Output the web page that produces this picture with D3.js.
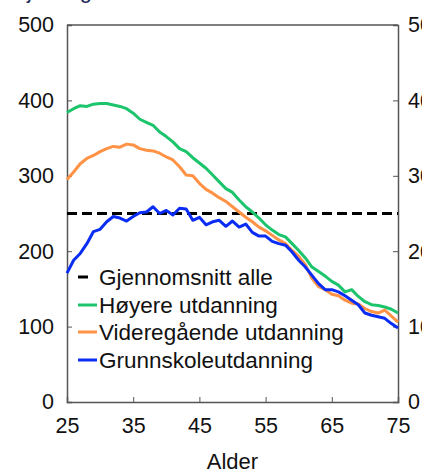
<!DOCTYPE html>
<html>
<head>
<meta charset="utf-8">
<script src="https://cdn.jsdelivr.net/npm/d3@7"></script>
<style>
  body { margin: 0; background: #fff; }
  svg { display: block; font-family: "Liberation Sans", Arial, sans-serif; }
</style>
</head>
<body>
<div id="graphic"></div>
<script>
var ages = d3.range(25, 76);

var hoyere = [384, 389, 393, 392, 395, 396, 396, 394, 392, 389, 383, 375, 371, 367, 358, 352, 345, 336, 332, 324,
  317, 310, 301, 292, 283, 278, 268, 259, 252, 244, 235, 228, 222, 219, 210, 201, 191, 179, 173, 167,
  160, 155, 146, 149, 140, 133, 129, 128, 126, 123, 118];

var videregaende = [295, 305, 316, 323, 327, 332, 336, 339, 338, 342, 341, 336, 334, 333, 330, 325, 321, 312, 301, 300,
  290, 282, 277, 271, 266, 259, 252, 245, 239, 232, 227, 221, 215, 210, 201, 193, 182, 164, 153, 149,
  143, 141, 135, 131, 130, 124, 120, 118, 122, 114, 106];

var grunnskole = [171, 188, 197, 210, 226, 229, 239, 246, 244, 240, 246, 251, 252, 259, 250, 254, 248, 257, 256, 241,
  245, 235, 239, 241, 233, 240, 232, 236, 225, 220, 220, 213, 210, 208, 199, 188, 179, 168, 157, 149,
  149, 146, 141, 135, 129, 118, 115, 113, 111, 104, 98];

var snittAlle = 250;

var seriesNames = ["Høyere utdanning", "Videregående utdanning", "Grunnskoleutdanning"];
var seriesValues = [hoyere, videregaende, grunnskole];
var seriesColors = ["#1cc46c", "#ff9245", "#0a2df5"];

var xTicks = [25, 35, 45, 55, 65, 75];
var yTicks = [0, 100, 200, 300, 400, 500];

var width = 422, height = 470;
var margin = {top: 25, right: 24, bottom: 68, left: 67};

var svg = d3.select("#graphic").append("svg")
  .attr("width", width)
  .attr("height", height);

var x = d3.scaleLinear().domain([25, 75]).range([margin.left, width - margin.right]);
var y = d3.scaleLinear().domain([0, 500]).range([height - margin.bottom, margin.top]);

// title sits above the frame, only descenders show
svg.append("text")
  .attr("x", 10)
  .attr("y", -2)
  .attr("font-size", 22)
  .attr("fill", "#1d2a5b")
  .text("Gjeld og inntekt");

var axisColor = "#555";

var leftAxis = svg.append("g")
  .attr("transform", "translate(" + margin.left + ",0)")
  .call(d3.axisLeft(y).tickValues(yTicks).tickSize(-5).tickPadding(13));

var rightAxis = svg.append("g")
  .attr("transform", "translate(" + (width - margin.right) + ",0)")
  .call(d3.axisRight(y).tickValues(yTicks).tickSize(-5).tickPadding(10));

var bottomAxis = svg.append("g")
  .attr("transform", "translate(0," + (height - margin.bottom) + ")")
  .call(d3.axisBottom(x).tickValues(xTicks).tickSize(-5).tickPadding(16));

[leftAxis, rightAxis, bottomAxis].forEach(function(g) {
  g.selectAll("path").attr("stroke", axisColor).attr("stroke-width", 1.5);
  g.selectAll("line").attr("stroke", axisColor).attr("stroke-width", 1);
  g.selectAll("text").attr("font-size", 21.5).attr("fill", "#111")
    .attr("font-family", "Liberation Sans, Arial, sans-serif");
});
bottomAxis.selectAll(".tick line").filter(function(d) { return d === 25 || d === 75; }).remove();

// top border
svg.append("line")
  .attr("x1", x(25)).attr("x2", x(75))
  .attr("y1", y(500)).attr("y2", y(500))
  .attr("stroke", axisColor).attr("stroke-width", 1.5);

// average
svg.append("line")
  .attr("x1", x(25)).attr("x2", x(75))
  .attr("y1", y(snittAlle)).attr("y2", y(snittAlle))
  .attr("stroke", "#000")
  .attr("stroke-width", 3)
  .attr("stroke-dasharray", "10,5");

var line = d3.line()
  .x(function(d, i) { return x(ages[i]); })
  .y(function(d) { return y(d); });

seriesValues.forEach(function(vals, i) {
  svg.append("path")
    .datum(vals)
    .attr("fill", "none")
    .attr("stroke", seriesColors[i])
    .attr("stroke-width", 3)
    .attr("stroke-linejoin", "round")
    .attr("d", line);
});

// legend
var legend = svg.append("g");
var legendY = [277, 305, 332, 360];
var legendNames = ["Gjennomsnitt alle"].concat(seriesNames);
var legendColors = ["#000"].concat(seriesColors);

legendNames.forEach(function(name, i) {
  legend.append("line")
    .attr("x1", 78).attr("x2", i === 0 ? 88 : 97)
    .attr("y1", legendY[i]).attr("y2", legendY[i])
    .attr("stroke", legendColors[i])
    .attr("stroke-width", 3);
  legend.append("text")
    .attr("x", 99)
    .attr("y", legendY[i])
    .attr("dy", "0.36em")
    .attr("font-size", 22.5)
    .attr("fill", "#111")
    .text(name);
});

svg.append("text")
  .attr("x", (x(25) + x(75)) / 2)
  .attr("y", 469)
  .attr("text-anchor", "middle")
  .attr("font-size", 22)
  .attr("fill", "#111")
  .text("Alder");
</script>
</body>
</html>
